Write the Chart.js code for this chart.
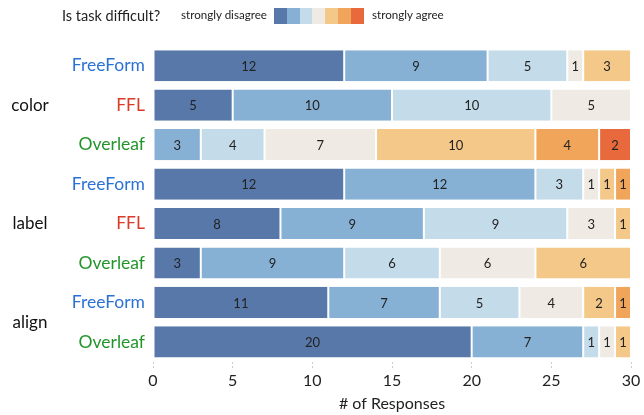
<!DOCTYPE html>
<html>
<head>
<meta charset="utf-8">
<script src="https://cdn.jsdelivr.net/npm/chart.js@4/dist/chart.umd.min.js"></script>
<style>
  html, body { margin:0; padding:0; background:#fff; }
  body { width:644px; height:415px; position:relative; overflow:hidden; font-family:Lato, "DejaVu Sans", sans-serif; }
  #head { position:absolute; top:0; left:0; width:644px; height:34px; color:#222; }
  #head span { position:absolute; white-space:nowrap; }
  #sw { position:absolute; left:274px; top:8px; height:16px; display:flex; }
  #sw div { width:12.8px; height:16px; }
  #wrap { position:absolute; top:0; left:0; width:644px; height:415px; }
</style>
</head>
<body>
<div id="wrap"><canvas id="myChart" width="644" height="415"></canvas></div>
<div id="head">
  <span style="left:62px; top:7px; font-size:14.5px;">Is task difficult?</span>
  <span style="left:181px; top:8px; font-size:11.6px;">strongly disagree</span>
  <div id="sw"></div>
  <span style="left:372px; top:8px; font-size:11.6px;">strongly agree</span>
</div>
<script>
const filas = ["FreeForm","FFL","Overleaf","FreeForm","FFL","Overleaf","FreeForm","Overleaf"];
const grupos = ["color","label","align"];
const grupoFilas = [[1],[4],[6,7]];
const niveles = ["strongly disagree","disagree","somewhat disagree","neutral","somewhat agree","agree","strongly agree"];
const colores = ["#5778a9","#87b1d4","#c4dbea","#efebe4","#f4c888","#f1a55b","#e86a3c"];
const colorHerramienta = {"FreeForm":"#2b72d5","FFL":"#db3c2a","Overleaf":"#22952a"};

// one array per likert level, one value per row
const nivel1 = [12, 5, 0, 12, 8, 3, 11, 20];
const nivel2 = [ 9,10, 3, 12, 9, 9,  7,  7];
const nivel3 = [ 5,10, 4,  3, 9, 6,  5,  1];
const nivel4 = [ 1, 5, 7,  1, 3, 6,  4,  1];
const nivel5 = [ 3, 0,10,  1, 1, 6,  2,  1];
const nivel6 = [ 0, 0, 4,  1, 0, 0,  1,  0];
const nivel7 = [ 0, 0, 2,  0, 0, 0,  0,  0];
const valores = [nivel1,nivel2,nivel3,nivel4,nivel5,nivel6,nivel7];

const xTicks = [0,5,10,15,20,25,30];

function leyenda(){
    let sw = document.getElementById('sw');
    for(let i=0;i<colores.length;i++){
        sw.insertAdjacentHTML('beforeend', `<div style="background:${colores[i]}"></div>`);
    }
}

const etiquetas = {
    id:'etiquetas',
    afterDatasetsDraw(chart){
        const ctx = chart.ctx;
        ctx.save();
        ctx.font = '13px Lato';
        ctx.fillStyle = '#222';
        ctx.textAlign = 'center';
        ctx.textBaseline = 'middle';
        chart.data.datasets.forEach((ds, i) => {
            const meta = chart.getDatasetMeta(i);
            meta.data.forEach((bar, j) => {
                const v = ds.data[j];
                if(!v) return;
                const xm = (bar.x + bar.base) / 2;
                ctx.fillText(String(v), xm, bar.y + 1);
            });
        });
        // group labels on the left
        const y = chart.scales.y;
        ctx.font = '17px Lato';
        ctx.fillStyle = '#111';
        for(let g=0; g<grupos.length; g++){
            const idx = grupoFilas[g];
            let yy = 0;
            idx.forEach(k => yy += y.getPixelForValue(k));
            yy = yy / idx.length;
            ctx.fillText(grupos[g], 30, yy);
        }
        ctx.restore();
    }
};

function graficar(){
    leyenda();
    const ctx = document.getElementById('myChart').getContext('2d');
    const datasets = [];
    for(let i=0;i<niveles.length;i++){
        datasets.push({
            label: niveles[i],
            data: valores[i],
            backgroundColor: colores[i],
            borderColor: '#ffffff',
            borderWidth: {left:1, right:1, top:0, bottom:0},
            borderSkipped: false,
            barPercentage: 0.79,
            categoryPercentage: 1.0
        });
    }
    new Chart(ctx, {
        type: 'bar',
        data: { labels: filas, datasets: datasets },
        options: {
            indexAxis: 'y',
            responsive: false,
            animation: false,
            layout: { padding: { top: 46, right: 13, left: 0, bottom: 2 } },
            scales: {
                x: {
                    stacked: true,
                    min: 0, max: 30,
                    afterBuildTicks: (s) => { s.ticks = xTicks.map(v => ({value:v})); },
                    border: { display: false },
                    grid: { drawOnChartArea: false, drawTicks: true, tickLength: 7, color: '#ccc', tickBorderDash: [2,2], tickWidth: 1 },
                    ticks: { color: '#222', font: { family: 'Lato', size: 16 }, padding: 3 },
                    title: { display: true, text: '# of Responses', color: '#222', font: { family: 'Lato', size: 16 }, padding: { top: 0, bottom: 0 } }
                },
                y: {
                    stacked: true,
                    border: { display: false },
                    grid: { display: false },
                    afterFit: (s) => { s.width = 153; },
                    ticks: {
                        padding: 0,
                        font: { family: 'Lato', size: 17.5 },
                        color: (c) => colorHerramienta[filas[c.index]]
                    }
                }
            },
            plugins: {
                legend: { display: false },
                tooltip: { enabled: false }
            }
        },
        plugins: [etiquetas]
    });
}

window.addEventListener("load", graficar);
</script>
</body>
</html>
